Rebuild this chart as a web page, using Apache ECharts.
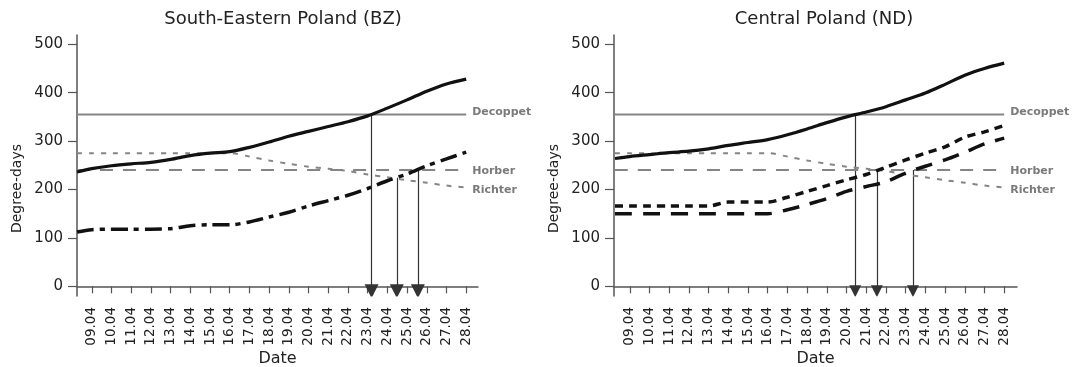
<!DOCTYPE html>
<html>
<head>
<meta charset="utf-8">
<script src="https://cdn.jsdelivr.net/npm/echarts@6/dist/echarts.min.js"></script>
<style>
  html, body { margin: 0; padding: 0; background: #fff; }
  #main { width: 1076px; height: 367px; }
</style>
</head>
<body>
<div id="main"></div>
<script>
// tick labels
var dateLabels = ['09.04', '10.04', '11.04', '12.04', '13.04', '14.04', '15.04', '16.04', '17.04', '18.04',
                  '19.04', '20.04', '21.04', '22.04', '23.04', '24.04', '25.04', '26.04', '27.04', '28.04'];
var yTicks = [0, 100, 200, 300, 400, 500];

// day of April for every point (first one sits on the y axis)
var days = [8.25, 9, 10, 11, 12, 13, 14, 15, 16, 17, 18, 19, 20, 21, 22, 23, 24, 25, 26, 27, 28];

// South-Eastern Poland (BZ)
var bzSolid   = [236, 243, 249, 253, 256, 262, 270, 275, 278, 287, 298, 310, 320, 330, 340, 352, 368, 385, 403, 418, 428];
var bzDashDot = [112, 117, 118, 118, 118, 119, 125, 127, 127, 133, 143, 153, 166, 177, 188, 202, 218, 232, 249, 263, 277];

// Central Poland (ND)
var ndSolid  = [264, 268, 272, 276, 279, 284, 291, 297, 303, 313, 325, 338, 350, 360, 371, 385, 399, 417, 436, 450, 461];
var ndDotted = [166, 166, 166, 166, 166, 166, 174, 174, 174, 184, 196, 208, 220, 231, 246, 261, 275, 288, 308, 319, 332];
var ndDashed = [150, 150, 150, 150, 150, 150, 150, 150, 150, 158, 169, 181, 196, 206, 216, 234, 248, 261, 277, 294, 306];

// thresholds
var richter = [275, 275, 275, 275, 275, 275, 275, 275, 275, 268, 260, 253, 247, 243, 238, 231, 225, 219, 214, 208, 204];
var decoppet = 355;
var horber = 240;

// arrows: day, value where it starts
var bzArrowDays = [23.2, 24.48, 25.55];
var bzArrowFrom = [355, 224, 240];
var ndArrowDays = [20.44, 21.54, 23.37];
var ndArrowFrom = [355, 240, 240];
var arrowTo = -10;

var tickDays = dateLabels.map(function (s) { return parseInt(s, 10); });

function pairs(vals) {
    return vals.map(function (v, i) { return [days[i], v]; });
}
function flat(v) {
    return [[days[0], v], [days[days.length - 1], v]];
}

var font = 'DejaVu Sans';
var axisCol = '#555';
var refCol = '#858585';

function xAxis(idx, min, max) {
    return {
        type: 'value', gridIndex: idx, min: min, max: max,
        name: 'Date', nameLocation: 'middle', nameGap: 55, nameMoveOverlap: false,
        nameTextStyle: { fontFamily: font, fontSize: 16, color: '#222' },
        splitLine: { show: false },
        axisLine: { show: true, lineStyle: { color: axisCol, width: 1.5 } },
        axisTick: { show: true, length: 7, customValues: tickDays, lineStyle: { color: axisCol, width: 1.2 } },
        axisLabel: {
            customValues: tickDays, rotate: 90, margin: 11,
            fontFamily: font, fontSize: 13.5, color: '#222',
            formatter: function (v) { return dateLabels[tickDays.indexOf(Math.round(v))] || ''; }
        }
    };
}
function yAxis(idx) {
    return {
        type: 'value', gridIndex: idx, min: -20, max: 519,
        name: 'Degree-days', nameLocation: 'middle', nameGap: 53, nameRotate: 90, nameMoveOverlap: false,
        nameTextStyle: { fontFamily: font, fontSize: 14, color: '#222', padding: [0, 46, 0, 0] },
        splitLine: { show: false },
        axisLine: { show: true, lineStyle: { color: axisCol, width: 1.5 } },
        axisTick: { show: true, length: 9, customValues: yTicks, lineStyle: { color: axisCol, width: 1.2 } },
        axisLabel: { customValues: yTicks, margin: 14, fontFamily: font, fontSize: 15, color: '#222' }
    };
}

function curve(name, idx, vals, dash, width) {
    return {
        name: name, type: 'line', xAxisIndex: idx, yAxisIndex: idx,
        data: pairs(vals), showSymbol: false, smooth: 0.3, silent: true,
        lineStyle: { color: '#111', width: width || 3, type: dash || 'solid', cap: 'butt' }
    };
}
function refLine(name, idx, data, dash, labelDy) {
    return {
        name: name, type: 'line', xAxisIndex: idx, yAxisIndex: idx,
        data: data, showSymbol: false, silent: true, smooth: 0.3,
        lineStyle: { color: refCol, width: 2, type: dash },
        endLabel: {
            show: true, formatter: '{a}', distance: 6, offset: [0, labelDy || 0],
            fontFamily: font, fontSize: 11, fontWeight: 'bold', color: '#7a7a7a'
        }
    };
}
function arrows(idx, dayArr, fromArr, size) {
    return {
        type: 'lines', coordinateSystem: 'cartesian2d', xAxisIndex: idx, yAxisIndex: idx,
        silent: true, symbol: ['none', 'triangle'], symbolSize: size,
        lineStyle: { color: '#333', width: 1.2, opacity: 1 },
        itemStyle: { color: '#000' },
        data: dayArr.map(function (d, i) { return { coords: [[d, fromArr[i]], [d, arrowTo]] }; })
    };
}

var chart = echarts.init(document.getElementById('main'), null, { renderer: 'canvas' });
chart.setOption({
    animation: false,
    backgroundColor: '#fff',
    title: [
        { text: 'South-Eastern Poland (BZ)', left: 278, top: 5, textAlign: 'center',
          textStyle: { fontFamily: font, fontSize: 18, fontWeight: 'normal', color: '#222' } },
        { text: 'Central Poland (ND)', left: 819, top: 5, textAlign: 'center',
          textStyle: { fontFamily: font, fontSize: 18, fontWeight: 'normal', color: '#222' } }
    ],
    grid: [
        { left: 77, top: 35, width: 401, height: 261, outerBoundsMode: 'none' },
        { left: 614, top: 35, width: 403, height: 261, outerBoundsMode: 'none' }
    ],
    xAxis: [xAxis(0, 8.25, 28.6), xAxis(1, 8.2, 28.65)],
    yAxis: [yAxis(0), yAxis(1)],
    series: [
        refLine('Decoppet', 0, flat(decoppet), 'solid', -2),
        refLine('Horber', 0, flat(horber), [13, 10], 1),
        refLine('Richter', 0, pairs(richter), [5, 7], 3),
        curve('BZ solid', 0, bzSolid, 'solid', 3.2),
        curve('BZ dash-dot', 0, bzDashDot, [17, 6, 5, 6], 3.5),
        arrows(0, bzArrowDays, bzArrowFrom, [10, 14]),

        refLine('Decoppet', 1, flat(decoppet), 'solid', -2),
        refLine('Horber', 1, flat(horber), [13, 10], 1),
        refLine('Richter', 1, pairs(richter), [5, 7], 3),
        curve('ND solid', 1, ndSolid, 'solid', 3.2),
        curve('ND dotted', 1, ndDotted, [8, 6], 3.5),
        curve('ND dashed', 1, ndDashed, [17, 11], 3.5),
        arrows(1, ndArrowDays, ndArrowFrom, [8, 12])
    ]
});
</script>
</body>
</html>
